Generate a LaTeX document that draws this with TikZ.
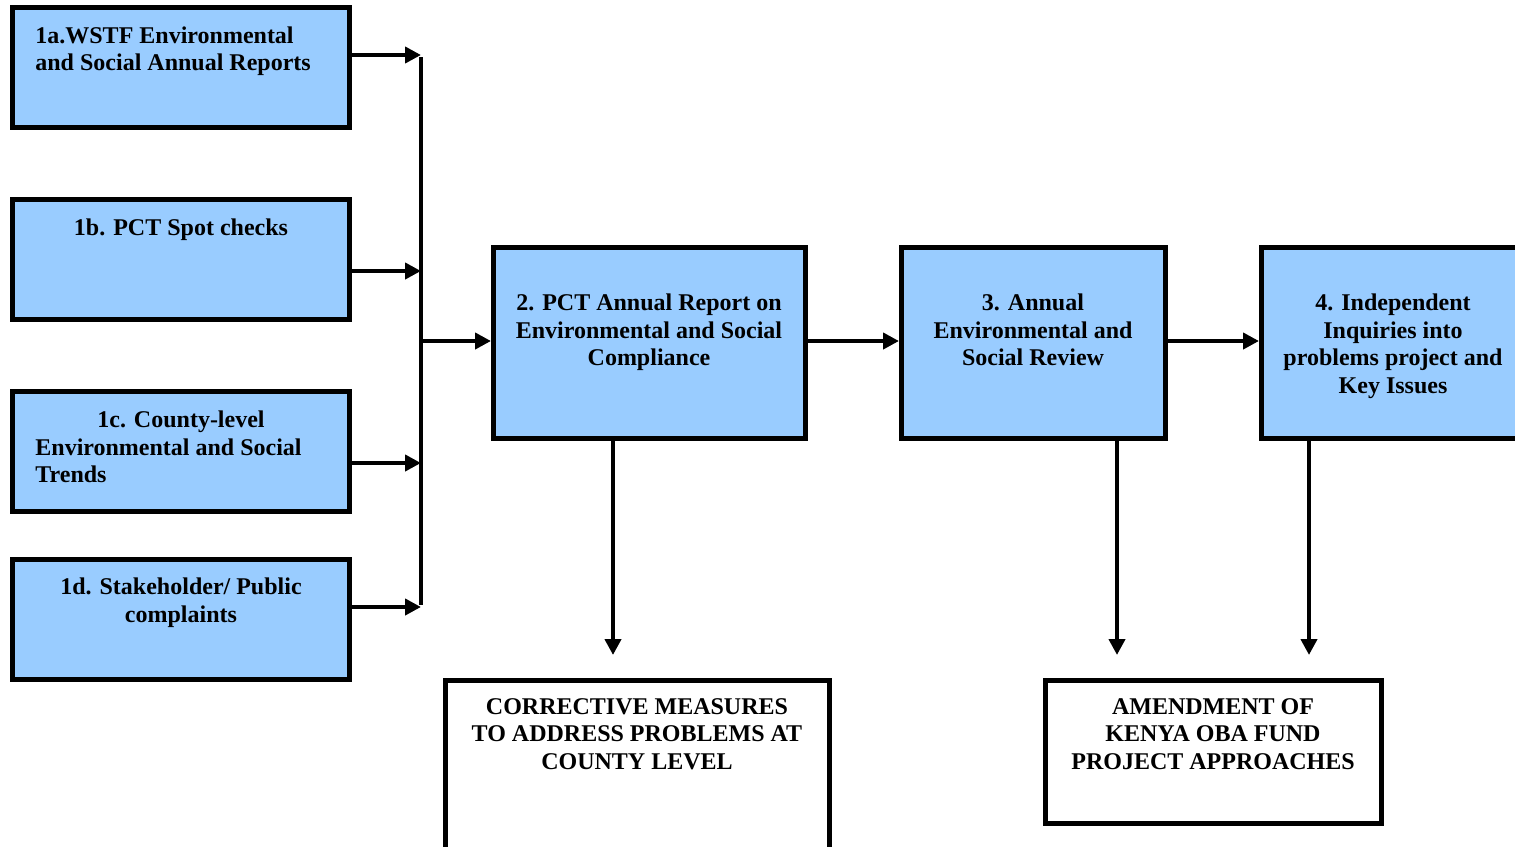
\documentclass[tikz,border=0pt]{standalone}
\usepackage{fontspec}
\setmainfont{Liberation Serif}
\usetikzlibrary{arrows.meta,fit}
\definecolor{boxblue}{RGB}{153,204,255}
\begin{document}
\begin{tikzpicture}[x=0.5pt,y=-0.5pt,
  box/.style={draw=black, line width=2.5pt, fill=boxblue, inner sep=0pt},
  wbox/.style={draw=black, line width=2.5pt, fill=white, inner sep=0pt},
  arr/.style={line width=2pt, -{Triangle[length=8pt,width=8pt]}},
  busline/.style={line width=2.3pt},
  lbl/.style={inner sep=0pt, font=\fontsize{12}{13.75}\selectfont\bfseries, anchor=base}]
\useasboundingbox[fill=white] (0,0) rectangle (1515,846);
% boxes
\node[box, fit={(12.5,7.5)(349,127.5)}] (b1a) {};
\node[box, fit={(12.5,199.5)(349,319.5)}] (b1b) {};
\node[box, fit={(12.5,391.5)(349,511.5)}] (b1c) {};
\node[box, fit={(12.5,559.5)(349,679.5)}] (b1d) {};
\node[box, fit={(493.5,247.5)(805,438.5)}] (b2) {};
\node[box, fit={(901.5,247.5)(1165,438.5)}] (b3) {};
\node[box, fit={(1261.5,247.5)(1540,438.5)}] (b4) {};
\node[wbox, fit={(445.5,680.5)(829,870)}] (b5) {};
\node[wbox, fit={(1045.5,680.5)(1381,823.5)}] (b6) {};
% texts
\node[lbl, anchor=base west] (t1a) at (35,43) {\begin{tabular}[t]{@{}l@{}}1a.WSTF Environmental\\and Social Annual Reports\end{tabular}};
\node[lbl] (t1b) at (181,235.5) {1b. PCT Spot checks};
\node[lbl] (t1c) at (181,427) {1c. County-level};
\node[lbl, anchor=base west] (t1c2) at (35,455) {\begin{tabular}[t]{@{}l@{}}Environmental and Social\\Trends\end{tabular}};
\node[lbl] (t1d) at (181,594.5) {\begin{tabular}[t]{@{}c@{}}1d. Stakeholder/ Public\\complaints\end{tabular}};
\node[lbl] (t2) at (649,310.5) {\begin{tabular}[t]{@{}c@{}}2. PCT Annual Report on\\Environmental and Social\\Compliance\end{tabular}};
\node[lbl] (t3) at (1033,310.5) {\begin{tabular}[t]{@{}c@{}}3. Annual\\Environmental and\\Social Review\end{tabular}};
\node[lbl] (t4) at (1393,310.5) {\begin{tabular}[t]{@{}c@{}}4. Independent\\Inquiries into\\problems project and\\Key Issues\end{tabular}};
\node[lbl] (t5) at (637,714) {\begin{tabular}[t]{@{}c@{}}CORRECTIVE MEASURES\\TO ADDRESS PROBLEMS AT\\COUNTY LEVEL\end{tabular}};
\node[lbl] (t6) at (1213,714) {\begin{tabular}[t]{@{}c@{}}AMENDMENT OF\\KENYA OBA FUND\\PROJECT APPROACHES\end{tabular}};
% bus
\coordinate (ba) at (421,55);
\coordinate (bb) at (421,271);
\coordinate (bm) at (421,341);
\coordinate (bc) at (421,463);
\coordinate (bd) at (421,607);
\draw[busline] ([yshift=-1pt]ba) -- ([yshift=1pt]bd);
\draw[arr] (b1a.east |- ba) -- (ba);
\draw[arr] (b1b.east |- bb) -- (bb);
\draw[arr] (b1c.east |- bc) -- (bc);
\draw[arr] (b1d.east |- bd) -- (bd);
\draw[arr] (bm) -- (b2.west |- bm);
\draw[arr] (b2.east |- bm) -- (b3.west |- bm);
\draw[arr] (b3.east |- bm) -- (b4.west |- bm);
% down arrows
\coordinate (d2) at (613,655);
\coordinate (d3) at (1117,655);
\coordinate (d4) at (1309,655);
\draw[arr] (b2.south -| d2) -- (d2);
\draw[arr] (b3.south -| d3) -- (d3);
\draw[arr] (b4.south -| d4) -- (d4);
\end{tikzpicture}
\end{document}
